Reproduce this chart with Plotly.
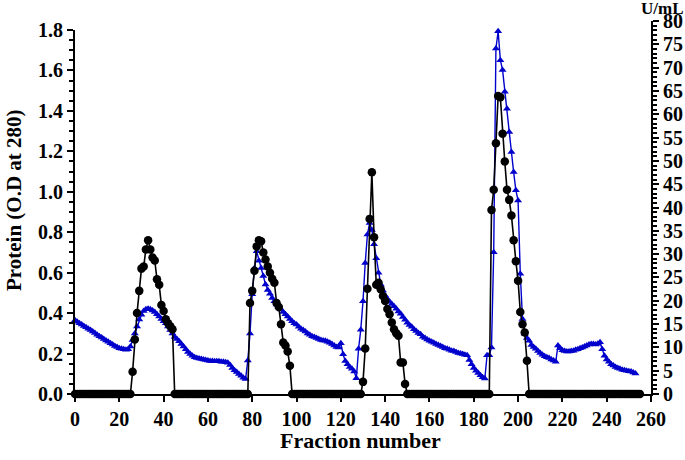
"""Fraction elution profile: protein (O.D 280) and activity (U/mL)."""

import plotly.graph_objects as go


# protein baseline is zero except for the four peaks below
N_FRACTIONS = 256
PEAK1_START = 26
PEAK1 = [0.11, 0.27, 0.40, 0.51, 0.62, 0.63, 0.715, 0.76, 0.715, 0.675,
         0.66, 0.567, 0.54, 0.44, 0.41, 0.37, 0.35, 0.335, 0.32]
PEAK2_START = 79
PEAK2 = [0.45, 0.51, 0.61, 0.73, 0.76, 0.755, 0.70, 0.665, 0.63, 0.60,
         0.57, 0.55, 0.45, 0.43, 0.345, 0.255, 0.24, 0.21, 0.14]
PEAK3_START = 130
PEAK3 = [0.06, 0.225, 0.52, 0.866, 1.096, 0.775, 0.54, 0.55, 0.518, 0.485,
         0.46, 0.42, 0.394, 0.354, 0.32, 0.30, 0.288, 0.156, 0.156, 0.05]
PEAK4_START = 188
PEAK4 = [0.91, 1.01, 1.24, 1.474, 1.468, 1.287, 1.15, 1.01, 0.96, 0.883,
         0.76, 0.657, 0.56, 0.406, 0.345, 0.304, 0.164]

# enzyme activity, U/mL, fractions 0..253
ACTIVITY = [
    15.8, 15.5, 15.2, 14.9, 14.6, 14.3, 14.0, 13.7, 13.4, 13.1,
    12.7, 12.4, 12.1, 11.8, 11.5, 11.2, 10.9, 10.6, 10.3, 10.1,
    9.8, 9.7, 9.6, 9.5, 9.6, 10.2, 11.6, 13.0, 14.5, 16.0,
    17.0, 17.8, 18.2, 18.3, 18.2, 17.9, 17.6, 17.1, 16.6, 16.1,
    15.6, 15.2, 14.5, 13.7, 13.0, 12.2, 11.8, 11.3, 10.7, 10.2,
    9.6, 9.0, 8.6, 8.2, 7.9, 7.7, 7.6, 7.5, 7.4, 7.3,
    7.2, 7.1, 7.1, 7.0, 7.0, 7.0, 6.9, 6.9, 6.8, 6.7,
    6.2, 5.6, 5.1, 4.7, 4.3, 3.9, 3.5, 3.2, 7.2, 13.0,
    21.4, 27.0, 30.6, 28.6, 27.0, 25.3, 23.5, 22.3, 21.5, 20.6,
    19.9, 19.2, 18.6, 18.1, 17.6, 17.1, 16.6, 16.1, 15.6, 15.2,
    14.9, 14.4, 14.0, 13.7, 13.4, 13.0, 12.7, 12.4, 12.2, 12.0,
    11.8, 11.6, 11.5, 11.4, 11.2, 11.0, 10.7, 10.4, 10.1, 10.0,
    10.9, 8.5, 7.1, 6.4, 5.8, 5.4, 4.8, 3.4, 9.7, 13.8,
    19.9, 28.1, 34.2, 36.7, 35.2, 32.1, 29.1, 26.0, 23.5, 22.2,
    21.1, 20.4, 19.8, 19.3, 18.8, 18.3, 17.7, 17.2, 16.5, 15.9,
    15.3, 14.8, 14.4, 13.9, 13.5, 13.1, 12.8, 12.3, 12.0, 11.7,
    11.4, 11.2, 11.0, 10.7, 10.5, 10.3, 10.1, 9.8, 9.7, 9.5,
    9.3, 9.2, 9.0, 8.8, 8.7, 8.6, 8.4, 8.3, 7.3, 6.4,
    5.6, 5.0, 4.5, 4.0, 3.6, 3.3, 8.3, 8.3, 10.0, 30.4,
    74.1, 77.8, 71.6, 69.5, 64.8, 61.2, 56.2, 51.9, 47.6, 43.7,
    41.5, 25.8, 16.1, 12.9, 12.0, 11.4, 10.5, 10.1, 9.7, 9.2,
    8.8, 8.4, 8.1, 7.9, 7.7, 7.4, 7.2, 6.9, 10.4, 9.8,
    9.4, 9.2, 9.1, 9.1, 9.2, 9.3, 9.5, 9.6, 9.8, 10.0,
    10.2, 10.4, 10.6, 10.7, 10.7, 10.6, 10.8, 11.1, 9.6, 8.2,
    7.4, 6.9, 6.4, 6.1, 5.8, 5.6, 5.4, 5.2, 5.1, 5.0,
    4.9, 4.8, 4.6, 4.4,
]

X_TICKS = list(range(0, 261, 20))
LEFT_TICKS = [0.0, 0.2, 0.4, 0.6, 0.8, 1.0, 1.2, 1.4, 1.6, 1.8]
RIGHT_TICKS = list(range(0, 81, 5))

FONT = "Liberation Serif"
BLUE = "#0000CC"
PLOT_LEFT = 75
PLOT_RIGHT = 651
PLOT_TOP = 21
PLOT_BOTTOM = 394
LEFT_TOP = 30


def main():
    """Main driver."""
    protein = [0.0] * N_FRACTIONS
    for start, peak in [(PEAK1_START, PEAK1), (PEAK2_START, PEAK2),
                        (PEAK3_START, PEAK3), (PEAK4_START, PEAK4)]:
        protein[start:start + len(peak)] = peak

    fig = go.Figure()
    # activity on the right axis (drawn first, underneath)
    fig.add_trace(go.Scatter(
        x=list(range(len(ACTIVITY))), y=ACTIVITY, yaxis="y",
        mode="lines+markers", cliponaxis=False,
        line=dict(color=BLUE, width=1.4),
        marker=dict(symbol="triangle-up", size=7, color=BLUE),
    ))
    # protein on the left axis (second subplot, drawn on top)
    fig.add_trace(go.Scatter(
        x=list(range(N_FRACTIONS)), y=protein, yaxis="y2",
        mode="lines+markers", cliponaxis=False,
        line=dict(color="black", width=1.6),
        marker=dict(symbol="circle", size=8.5, color="black"),
    ))

    plot_w = PLOT_RIGHT - PLOT_LEFT
    plot_h = PLOT_BOTTOM - PLOT_TOP
    tick_font = dict(family=FONT, size=20, color="black", weight="bold")
    axis_common = dict(
        showgrid=False, zeroline=False, automargin=False,
        showline=True, linecolor="black", linewidth=2,
        ticks="outside", ticklen=6, tickwidth=2, tickcolor="black",
        tickfont=tick_font,
    )
    fig.update_layout(
        width=685, height=460,
        margin=dict(l=PLOT_LEFT, r=685 - PLOT_RIGHT, t=PLOT_TOP,
                    b=460 - PLOT_BOTTOM),
        plot_bgcolor="rgba(0,0,0,0)", paper_bgcolor="white",
        showlegend=False,
        xaxis=dict(range=[0, 260], tickvals=X_TICKS, **axis_common),
        yaxis=dict(
            domain=[0, 1], range=[0, 80], side="right",
            tickvals=RIGHT_TICKS,
            minor=dict(dtick=1, ticklen=4, tickwidth=1.5,
                       tickcolor="black", ticks="outside"),
            **axis_common,
        ),
        yaxis2=dict(
            domain=[0, (PLOT_BOTTOM - LEFT_TOP) / plot_h], range=[0, 1.8],
            anchor="x", side="left",
            tickvals=LEFT_TICKS, tickformat=".1f",
            minor=dict(dtick=0.05, ticklen=4, tickwidth=1.5,
                       tickcolor="black", ticks="outside"),
            **axis_common,
        ),
    )
    title_font = dict(family=FONT, size=21, color="black", weight="bold")
    fig.add_annotation(
        text="Protein (O.D at 280)", textangle=-90,
        xref="paper", yref="paper", x=(14 - PLOT_LEFT) / plot_w,
        y=(PLOT_BOTTOM - 200) / plot_h,
        xanchor="center", yanchor="middle", showarrow=False, font=title_font,
    )
    fig.add_annotation(
        text="Fraction number", xref="paper", yref="paper",
        x=(360 - PLOT_LEFT) / plot_w, y=-(440 - PLOT_BOTTOM) / plot_h,
        xanchor="center", yanchor="middle", showarrow=False,
        font=dict(family=FONT, size=22, color="black", weight="bold"),
    )
    fig.add_annotation(
        text="U/mL", xref="paper", yref="paper",
        x=(662 - PLOT_LEFT) / plot_w, y=1 + (PLOT_TOP - 9) / plot_h,
        xanchor="center", yanchor="middle", showarrow=False,
        font=dict(family=FONT, size=17, color="black", weight="bold"),
    )

    # drop the browser's default body margin so the figure sits at 0,0
    fig.write_html("out.html", config={"displayModeBar": False},
                   post_script="document.body.style.margin = '0';")


if __name__ == "__main__":
    main()
